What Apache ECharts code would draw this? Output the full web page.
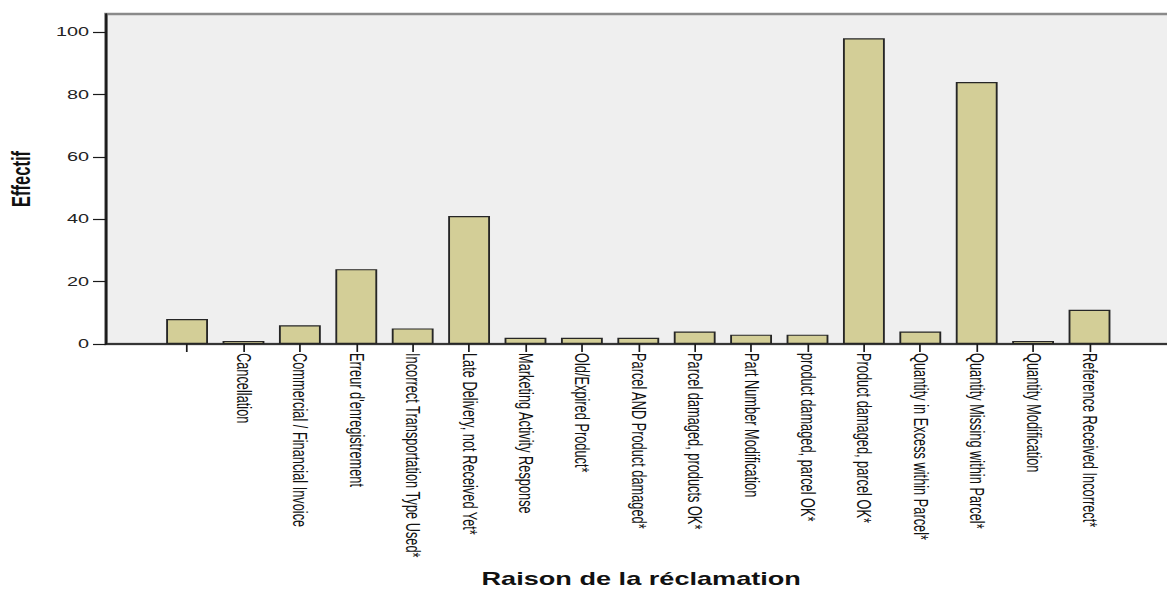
<!DOCTYPE html>
<html>
<head>
<meta charset="utf-8">
<script src="https://cdn.jsdelivr.net/npm/echarts@6/dist/echarts.min.js"></script>
<style>
  html, body { margin: 0; padding: 0; background: #fff; overflow: hidden; }
  /* the chart is laid out at a narrower width and widened horizontally */
  #chart { width: 752.9px; height: 590px; transform: scaleX(1.55); transform-origin: 0 0; }
</style>
</head>
<body>
<div id="chart"></div>
<script>
// Complaint reasons and their counts
const categories = [
  '',
  'Cancellation',
  'Commercial / Financial Invoice',
  "Erreur d'enregistrement",
  'Incorrect Transportation Type Used*',
  'Late Delivery, not Received Yet*',
  'Marketing Activity Response',
  'Old/Expired Product*',
  'Parcel AND Product damaged*',
  'Parcel damaged, products OK*',
  'Part Number Modification',
  'product damaged, parcel OK*',
  'Product damaged, parcel OK*',
  'Quantity in Excess within Parcel*',
  'Quantity Missing within Parcel*',
  'Quantity Modification',
  'Reference Received Incorrect*'
];
const counts = [8, 1, 6, 24, 5, 41, 2, 2, 2, 4, 3, 3, 98, 4, 84, 1, 11];
const yTicks = [0, 20, 40, 60, 80, 100];

const FONT = '"Liberation Sans", Arial, sans-serif';
const Y_MAX = 105.8;

const chart = echarts.init(document.getElementById('chart'), null, { renderer: 'svg' });

chart.setOption({
  animation: false,
  backgroundColor: '#ffffff',
  grid: [
    // frame and shaded plot area
    { left: 68.4, right: -6, top: 14, bottom: 246, show: true, outerBoundsMode: 'none',
      backgroundColor: '#efefef', borderColor: '#8a8a8a', borderWidth: 2.4 },
    // bar area
    { left: 102.5, width: 618.6, top: 14, bottom: 246, show: false, outerBoundsMode: 'none' }
  ],
  xAxis: [
    {
      gridIndex: 0, type: 'category', data: [''],
      axisLine: { show: true, lineStyle: { color: '#1a1a1a', width: 1.5 } },
      axisTick: { show: false }, axisLabel: { show: false },
      name: 'Raison de la réclamation', nameLocation: 'middle', nameGap: 226,
      nameTextStyle: { fontFamily: FONT, fontWeight: 'bold', fontSize: 17.5, color: '#111',
                       lineHeight: 18 }
    },
    {
      gridIndex: 1, type: 'category', data: categories,
      axisLine: { show: false },
      axisTick: { show: true, alignWithLabel: true, length: 8, lineStyle: { color: '#1a1a1a', width: 1.1 } },
      axisLabel: { rotate: -90, interval: 0, margin: 9, fontFamily: FONT, fontSize: 12.8, color: '#111' }
    }
  ],
  yAxis: [
    {
      gridIndex: 0, type: 'value', min: 0, max: Y_MAX, interval: 20,
      splitLine: { show: false },
      axisLine: { show: true, lineStyle: { color: '#1a1a1a', width: 1.4 } },
      axisTick: { show: true, length: 8.4, customValues: yTicks, lineStyle: { color: '#1a1a1a', width: 1.2 } },
      axisLabel: { margin: 11, customValues: yTicks, fontFamily: FONT, fontSize: 12.8, color: '#222' },
      name: 'Effectif', nameLocation: 'middle', nameGap: 46, nameRotate: 90,
      nameTextStyle: { fontFamily: FONT, fontWeight: 'bold', fontSize: 16.5, color: '#111' }
    },
    {
      gridIndex: 1, type: 'value', min: 0, max: Y_MAX, show: false,
      splitLine: { show: false }
    }
  ],
  series: [
    {
      type: 'bar', xAxisIndex: 1, yAxisIndex: 1,
      data: counts, barWidth: 27,
      itemStyle: { color: '#d3ce97', borderColor: '#262626', borderWidth: 1.2 }
    }
  ]
});
</script>
</body>
</html>
